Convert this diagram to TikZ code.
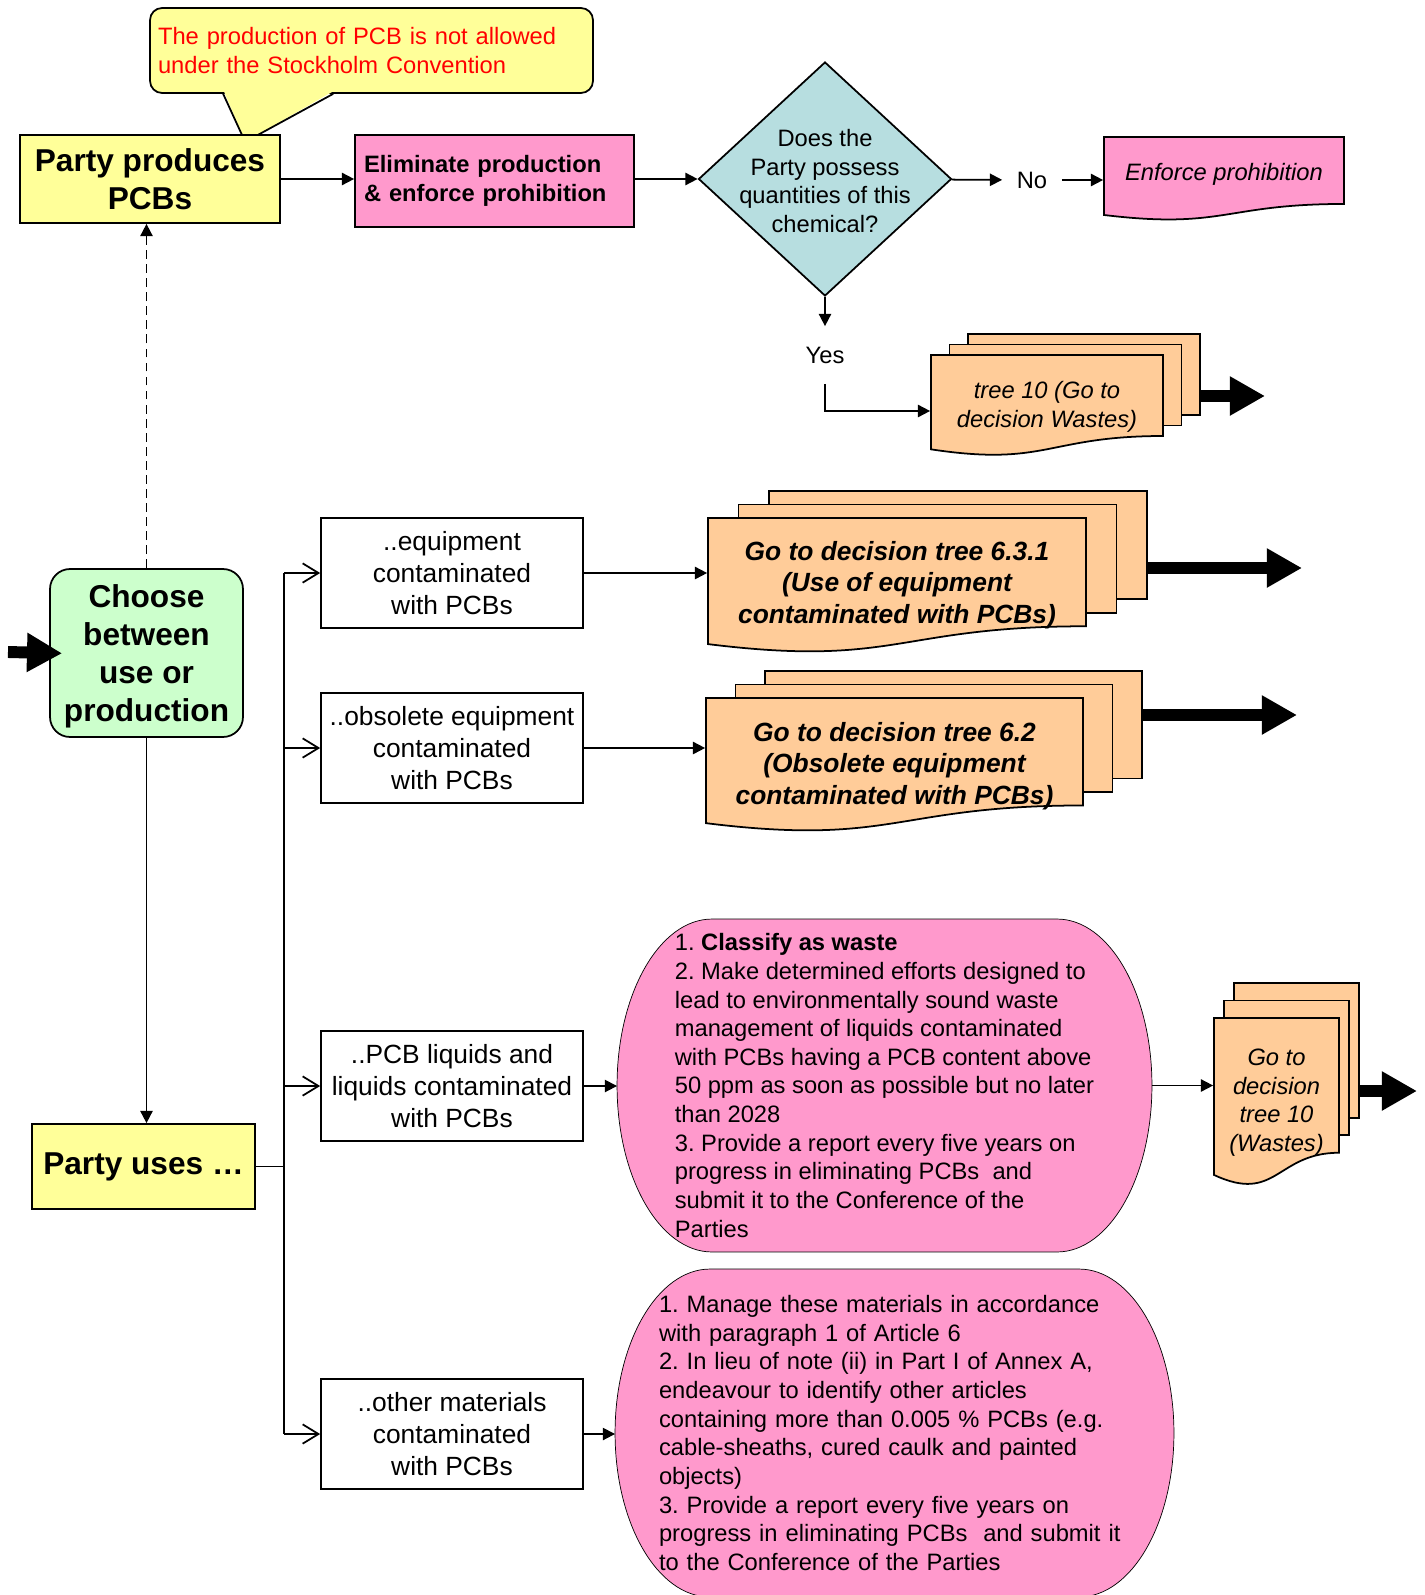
\documentclass[tikz,border=0pt]{standalone}
\usepackage{fontspec}
\setmainfont{Liberation Sans}
\frenchspacing
\usetikzlibrary{shapes.geometric, arrows.meta, positioning, calc, backgrounds}
\definecolor{notefill}{RGB}{255,255,153}
\definecolor{pcbpink}{RGB}{255,153,204}
\definecolor{docorange}{RGB}{255,204,153}
\definecolor{choosegreen}{RGB}{204,255,204}
\definecolor{decisionblue}{RGB}{183,222,224}

% one document page: left, top, width, height, colour
\newcommand{\docpage}[5]{%
  \filldraw[fill=#5] (#1,#2) -- ({#1+#3},#2) -- ({#1+#3},{#2+0.802*#4})
    .. controls ({#1+0.5*#3},{#2+0.802*#4}) and ({#1+0.5*#3},{#2+1.108*#4}) .. (#1,{#2+0.934*#4}) -- cycle;}
% stack of three pages: left, top, width, height, dx, dy, colour
\newcommand{\docstack}[7]{%
  \filldraw[fill=#7] ({#1+2*#5},{#2-2*#6}) rectangle ++(#3,{0.802*#4});
  \filldraw[fill=#7] ({#1+#5},{#2-#6}) rectangle ++(#3,{0.802*#4});
  \docpage{#1}{#2}{#3}{#4}{#7}}
% pink slab behind a node: node, x radius, y radius
\newcommand{\roundslab}[3]{%
  \begin{scope}[on background layer]
    \filldraw[fill=pcbpink] ([xshift=#2]#1.north west) -- ([xshift=-#2]#1.north east)
      arc[start angle=90, end angle=-90, x radius=#2, y radius=#3]
      -- ([xshift=#2]#1.south west)
      arc[start angle=270, end angle=90, x radius=#2, y radius=#3] -- cycle;
  \end{scope}}

\begin{document}
\begin{tikzpicture}[
    x=0.02cm, y=-0.02cm,
    line width=1pt,
    every node/.style={font=\fontsize{13.5}{16.3}\selectfont},
    note/.style={draw, fill=notefill, rounded corners=0.24cm, text=red, align=left, text width=8.54cm, inner sep=0.16cm, minimum height=1.7cm, font=\fontsize{13.5}{16}\selectfont},
    partybox/.style={draw, fill=notefill, align=center, inner sep=0pt, font=\bfseries\fontsize{18}{21.5}\selectfont},
    choosebox/.style={draw, fill=choosegreen, rounded corners=0.4cm, align=center, inner sep=0pt, text depth=0pt, minimum width=3.86cm, minimum height=3.36cm, font=\bfseries\fontsize{18}{21.8}\selectfont},
    actionbox/.style={draw, fill=pcbpink, align=left, text width=5.22cm, inner sep=0.18cm, minimum height=1.84cm, font=\bfseries\fontsize{13.5}{16.2}\selectfont},
    usebox/.style={draw, align=center, inner sep=0pt, minimum width=5.24cm, minimum height=2.2cm, font=\fontsize{15}{18.1}\selectfont},
    decision/.style={diamond, draw, fill=decisionblue, inner sep=0pt, minimum width=5.06cm, minimum height=4.68cm},
    doctext/.style={align=center, inner sep=0pt, font=\itshape\fontsize{13.5}{16.3}\selectfont},
    bigdoctext/.style={align=center, inner sep=0pt, font=\bfseries\itshape\fontsize{15}{18.1}\selectfont},
    slab/.style={align=left, inner sep=0pt, outer sep=0pt},
    arrow/.style={-{Triangle[length=7pt, width=7pt]}},
    openarrow/.style={-{Straight Barb[length=9pt, width=11pt]}},
    fatarrow/.style={line width=6.8pt, -{Triangle[length=20pt, width=21pt]}}
]
    \useasboundingbox (0,0) rectangle (1424,1595);

    % Callout
    \node[note] (note) at (371.5,50.5) {The production of PCB is not allowed\\under the Stockholm Convention};
    \fill[notefill] ($(note.south west)+(75,-2)$) -- ($(note.south west)+(96,48)$) -- ($(note.south west)+(183,-2)$) -- cycle;
    \draw ($(note.south west)+(74,0)$) -- ($(note.south west)+(96,48)$) -- ($(note.south west)+(184,0)$);

    % Production branch
    \node[partybox, minimum width=5.2cm, minimum height=1.76cm] (produce) at (150,179) {Party produces\\PCBs};
    \node[actionbox] (eliminate) at (494.5,181) {Eliminate production\\\& enforce prohibition};
    \node[decision] (possess) at (825,179) {};
    \node[align=center, inner sep=0pt] (possesstext) at (825,181) {Does the\\Party possess\\quantities of this\\chemical?};
    \node[minimum width=1.16cm, inner sep=0pt] (no) at (1032,180) {No};
    \node[minimum height=1.12cm, inner sep=0pt] (yes) at (825,355) {Yes};

    \docpage{1104}{137}{240}{83.5}{pcbpink}
    \node[doctext, minimum width=4.8cm] (enforce) at (1224,174) {Enforce prohibition};

    \docstack{931}{355}{232}{101}{18.5}{10.5}{docorange}
    \node[doctext, minimum width=4.64cm] (wastes) at (1047,407) {tree 10 (Go to\\decision Wastes)};

    \draw[arrow] (produce) -- (produce -| eliminate.west);
    \draw[arrow] (eliminate.east |- possess) -- (possess);
    \draw[arrow] (possess) -- (no);
    \draw[arrow] (no.east) -- (no.east -| enforce.west);
    \draw[arrow] (possess) -- (yes);
    \draw[arrow] (yes.south) |- ($(wastes.west)+(0,4)$);
    \coordinate (wastesout) at (1200,396);
    \coordinate (wastesend) at (1265,396);
    \draw[fatarrow] (wastesout) -- (wastesend);

    % Choice
    \node[choosebox] (choose) at (146.5,653) {Choose\\between\\use or\\production};
    \node[partybox, minimum width=4.46cm, minimum height=1.7cm] (uses) at (143.5,1166.5) {Party uses …};
    \coordinate (entry) at (8,652);
    \draw[fatarrow, shorten >=-0.26cm] (entry) -- (choose.west);
    \draw[arrow, dash pattern=on 5pt off 3pt] (choose.north) -- (choose.north |- produce.south);
    \draw[arrow] (choose.south) -- (choose.south |- uses.north);

    % Use branch
    \node[usebox] (equip) at (452,573) {..equipment\\contaminated\\with PCBs};
    \node[usebox] (obsolete) at (452,748) {..obsolete equipment\\contaminated\\with PCBs};
    \node[usebox] (liquids) at (452,1086) {..PCB liquids and\\liquids contaminated\\with PCBs};
    \node[usebox] (other) at (452,1434) {..other materials\\contaminated\\with PCBs};

    \coordinate (trunk) at (284,0);
    \draw (trunk |- equip.west) -- (trunk |- other.west);
    \draw (uses.east) -- (uses.east -| trunk);
    \draw[openarrow] (trunk |- equip.west) -- (equip.west);
    \draw[openarrow] (trunk |- obsolete.west) -- (obsolete.west);
    \draw[openarrow] (trunk |- liquids.west) -- (liquids.west);
    \draw[openarrow] (trunk |- other.west) -- (other.west);

    % Decision trees
    \docstack{708}{518}{378}{135}{30.5}{13.5}{docorange}
    \node[bigdoctext, minimum width=7.56cm] (tree631) at (897,585) {Go to decision tree 6.3.1\\(Use of equipment\\contaminated with PCBs)};
    \docstack{706}{698}{377}{134}{29.5}{13.5}{docorange}
    \node[bigdoctext, minimum width=7.54cm] (tree62) at (894.5,766) {Go to decision tree 6.2\\(Obsolete equipment\\contaminated with PCBs)};

    \draw[arrow] (equip.east) -- (equip.east -| tree631.west);
    \draw[arrow] (obsolete.east) -- (obsolete.east -| tree62.west);
    \coordinate (tree631out) at (1147,568);
    \coordinate (tree631end) at (1302,568);
    \draw[fatarrow] (tree631out) -- (tree631end);
    \coordinate (tree62out) at (1143,715);
    \coordinate (tree62end) at (1297,715);
    \draw[fatarrow] (tree62out) -- (tree62end);

    % Measures
    \node[slab, minimum width=10.7cm, minimum height=6.66cm] (liquidsteps) at (884.5,1085.5) {1. \textbf{Classify as waste}\\2. Make determined efforts designed to\\lead to environmentally sound waste\\management of liquids contaminated\\with PCBs having a PCB content above\\50 ppm as soon as possible but no later\\than 2028\\3. Provide a report every five years on\\progress in eliminating PCBs~ and\\submit it to the Conference of the\\Parties};
    \roundslab{liquidsteps}{1.9cm}{3.33cm}
    \node[slab, text width=9.42cm, minimum width=11.18cm, minimum height=6.56cm] (othersteps) at (894.5,1433) {1. Manage these materials in accordance\\with paragraph 1 of Article 6\\2. In lieu of note (ii) in Part I of Annex A,\\endeavour to identify other articles\\containing more than 0.005 \% PCBs (e.g.\\cable-sheaths, cured caulk and painted\\objects)\\3. Provide a report every five years on\\progress in eliminating PCBs~ and submit it\\to the Conference of the Parties};
    \roundslab{othersteps}{1.9cm}{3.28cm}

    \docstack{1214}{1018}{125}{168}{10}{17.5}{docorange}
    \node[doctext, minimum width=2.5cm] (waste10) at (1276.5,1102.5) {Go to\\decision\\tree 10\\(Wastes)};

    \draw[arrow] (liquids.east) -- (liquids.east -| liquidsteps.west);
    \draw[arrow] (other.east) -- (other.east -| othersteps.west);
    \draw[arrow] (liquidsteps.east) -- (liquidsteps.east -| waste10.west);
    \coordinate (waste10out) at (1359,1091);
    \coordinate (waste10end) at (1417,1091);
    \draw[fatarrow] (waste10out) -- (waste10end);
\end{tikzpicture}
\end{document}
